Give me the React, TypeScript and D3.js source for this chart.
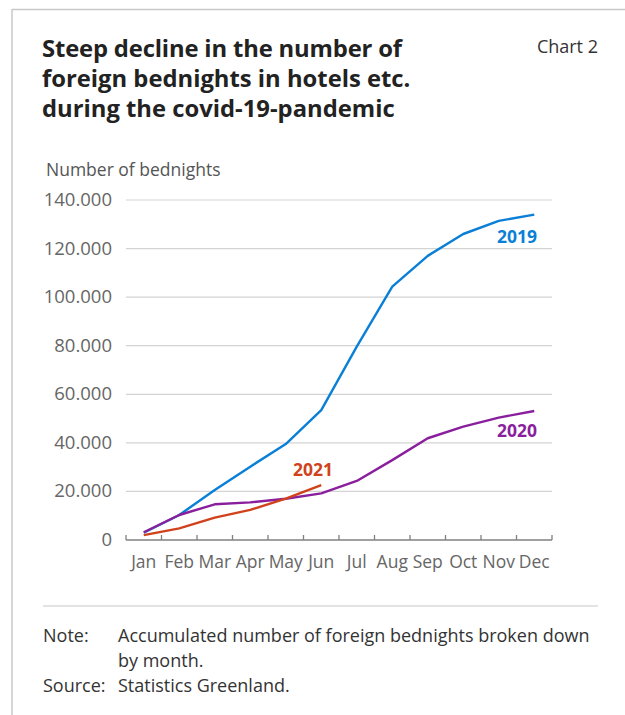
import React from 'react'
import * as d3 from 'd3'

const months = ['Jan', 'Feb', 'Mar', 'Apr', 'May', 'Jun', 'Jul', 'Aug', 'Sep', 'Oct', 'Nov', 'Dec']
const v2019 = [3000, 10300, 20600, 30200, 39500, 53500, 79600, 104300, 117000, 126000, 131400, 134000]
const v2020 = [3200, 10300, 14700, 15500, 17000, 19200, 24300, 32900, 41900, 46700, 50400, 53100]
const v2021 = [2000, 4800, 9200, 12400, 17000, 22600]
const yTicks = [0, 20000, 40000, 60000, 80000, 100000, 120000, 140000]

const titleLines = ['Steep decline in the number of', 'foreign bednights in hotels etc.', 'during the covid-19-pandemic']

const W = 625, H = 715
const FONT = "'Open Sans', 'Noto Sans', sans-serif"
const FS = 17.5

const fmt = d3.formatLocale({ decimal: ',', thousands: '.', grouping: [3], currency: ['', ''] }).format(',')

const x = d3.scaleBand<string>().domain(months).range([126, 552])
const y = d3.scaleLinear().domain([0, 140000]).range([540, 200])
const cx = (m: string) => (x(m) as number) + x.bandwidth() / 2

const line = d3.line<number>()
    .x((d, i) => cx(months[i]))
    .y(d => y(d))

const series = [
    { name: '2019', values: v2019, color: '#0a7fd6' },
    { name: '2020', values: v2020, color: '#8a1f9e' },
    { name: '2021', values: v2021, color: '#d0421c' },
]

const Series = ({ values, color }: { values: number[], color: string }) =>
    <path d={line(values) || ''} fill="none" stroke={color} strokeWidth={2.4} strokeLinejoin="round" />

export default function App() {
    const ticksX = d3.range(months.length + 1).map(i => 126 + i * x.bandwidth())
    return (
        <svg width={W} height={H} style={{ position: 'absolute', left: 0, top: 0, display: 'block', background: '#fff' }}
            fontFamily={FONT}>
            {/* frame */}
            <line x1={12} x2={W} y1={9.5} y2={9.5} stroke="#c8c8c8" strokeWidth={1.5} />
            <line x1={12} x2={12} y1={9} y2={H} stroke="#c8c8c8" strokeWidth={1.5} />

            {titleLines.map((t, i) =>
                <text key={i} x={42} y={57 + i * 30} fontSize={23.8} fontWeight={700} fill="#222" textLength={i == 0 ? 360 : undefined}>{t}</text>
            )}
            <text x={598} y={53} textAnchor="end" fontSize={18} fill="#333">Chart 2</text>
            <text x={46} y={176} fontSize={FS} fill="#555">Number of bednights</text>

            {/* grid + y labels */}
            {yTicks.map(t =>
                <g key={t}>
                    {t > 0 && <line x1={126} x2={552} y1={y(t)} y2={y(t)} stroke="#d4d4d4" strokeWidth={1.2} />}
                    <text x={112} y={y(t) + 6} textAnchor="end" fontSize={18.5} fill="#666">{fmt(t)}</text>
                </g>
            )}

            {/* x axis */}
            <line x1={126} x2={552} y1={y(0)} y2={y(0)} stroke="#808080" strokeWidth={1.3} />
            {ticksX.map((tx, i) =>
                <line key={i} x1={tx} x2={tx} y1={y(0)} y2={y(0) - 5} stroke="#808080" strokeWidth={1.3} />
            )}
            {months.map(m =>
                <text key={m} x={cx(m)} y={568} textAnchor="middle" fontSize={FS} fill="#666">{m}</text>
            )}

            {series.map(s => <Series key={s.name} values={s.values} color={s.color} />)}

            <text x={537} y={243} textAnchor="end" fontSize={FS} fontWeight={700} fill="#0a7fd6">2019</text>
            <text x={537} y={437} textAnchor="end" fontSize={FS} fontWeight={700} fill="#8a1f9e">2020</text>
            <text x={333} y={476} textAnchor="end" fontSize={FS} fontWeight={700} fill="#d0421c">2021</text>

            <line x1={43} x2={598} y1={606} y2={606} stroke="#c8c8c8" strokeWidth={1.2} />
            <text x={43} y={642} fontSize={18} fill="#333">Note:</text>
            <text x={118} y={642} fontSize={18} fill="#333">Accumulated number of foreign bednights broken down</text>
            <text x={118} y={667} fontSize={18} fill="#333">by month.</text>
            <text x={43} y={692} fontSize={18} fill="#333">Source:</text>
            <text x={118} y={692} fontSize={18} fill="#333">Statistics Greenland.</text>
        </svg>
    )
}
